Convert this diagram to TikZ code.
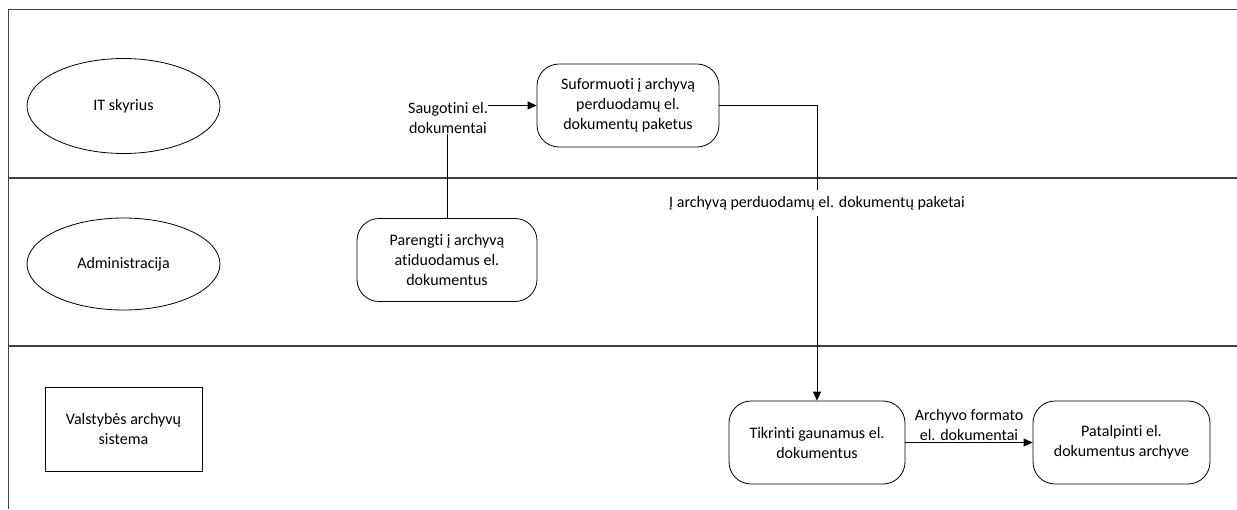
\documentclass[tikz,border=0pt]{standalone}
\usepackage{fontspec}
\setmainfont{Carlito}[Ligatures=NoCommon]
\usetikzlibrary{shapes.geometric,arrows.meta}
\begin{document}
\begin{tikzpicture}[x=1pt,y=-1pt,
  every node/.style={font=\fontsize{16}{20}\selectfont},
  lane/.style={draw=black!75,line width=1.4pt},
  actor/.style={draw,ellipse,line width=0.8pt,minimum width=193pt,minimum height=95pt,inner sep=0pt},
  extsys/.style={draw,rectangle,line width=0.8pt,minimum width=157pt,minimum height=84pt,align=center,inner sep=0pt},
  task/.style={draw,rectangle,rounded corners=22pt,line width=0.8pt,minimum width=180pt,minimum height=83pt,align=center,inner sep=0pt},
  flow/.style={line width=0.8pt},
  arr/.style={flow,-{Triangle[length=9pt,width=8pt]}},
  lbl/.style={align=center,inner sep=0pt}
]
\useasboundingbox (0,0) rectangle (1237,509);

% pool frame and lane dividers
\draw[lane] (1237,9.5) -- (8.5,9.5) -- (8.5,509);
\draw[lane] (8.5,178) -- (1237,178);
\draw[lane] (8.5,346) -- (1237,346);

% lane owners
\node[actor] (it) at (123.5,106) {IT skyrius};
\node[actor,minimum height=92pt] (adm) at (123.5,264) {Administracija};
\node[extsys] (vas) at (123.5,429) {Valstybės archyvų\\sistema};

% activities
\node[task,minimum width=182pt] (sform) at (628,105.5) {Suformuoti į archyvą\\perduodamų el.\\dokumentų paketus};
\node[task] (par) at (447,260) {Parengti į archyvą\\atiduodamus el.\\dokumentus};
\node[task,minimum width=176pt] (tik) at (817,442.5) {Tikrinti gaunamus el.\\dokumentus};
\node[task,minimum width=177pt] (pat) at (1121.5,442.5) {Patalpinti el.\\dokumentus archyve};

% flows
\node[lbl] (sl) at (448,118) {Saugotini el.\\dokumentai};
\draw[flow] (par.north) -- (par.north |- sl.south);
\draw[arr] (sl.east |- sform.west) -- (sform.west);

\draw[arr] (sform.east) -| (tik.north);
\node[fill=white,inner xsep=2pt,inner ysep=6pt] (pl) at (tik.north |- 0,203) {Į archyvą perduodamų el. dokumentų paketai};

\draw[arr] (tik.east) -- (pat.west)
  node[midway,above=1pt,lbl] (fl) {Archyvo formato\\el. dokumentai};
\end{tikzpicture}
\end{document}
